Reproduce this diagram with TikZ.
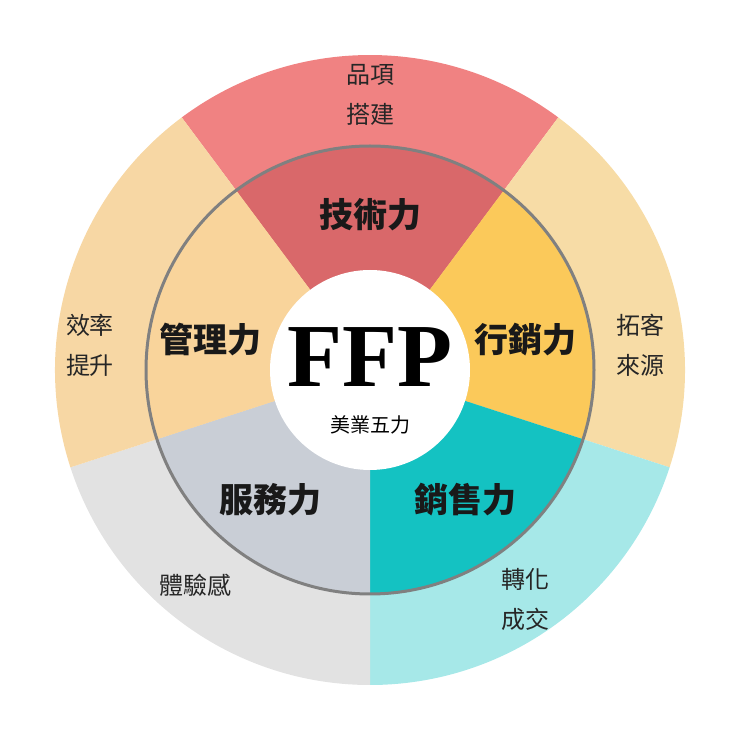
\documentclass[tikz,border=0pt]{standalone}
\usepackage{fontspec}
\newfontfamily\cjk{Noto Sans CJK TC}
\newfontfamily\ffp{Liberation Serif}
\definecolor{oR}{HTML}{F08282}\definecolor{iR}{HTML}{D9686A}
\definecolor{oP}{HTML}{F7D7A4}\definecolor{iP}{HTML}{F9D49B}
\definecolor{oY}{HTML}{F7DCA6}\definecolor{iY}{HTML}{FBC95A}
\definecolor{oG}{HTML}{E2E2E2}\definecolor{iG}{HTML}{C9CED6}
\definecolor{oC}{HTML}{A6E8E8}\definecolor{iC}{HTML}{14C2C2}
\begin{document}
\begin{tikzpicture}[x=1pt,y=1pt,
  outer/.style={font=\cjk\fontsize{24}{40}\selectfont,align=center,text=black!85},
  inner/.style={font=\cjk\bfseries\fontsize{34}{40}\selectfont,text=black!90}]
\useasboundingbox (0,0) rectangle (740,740);
\coordinate (C) at (370,370);
\newcommand\sect[4]{\fill[#1] (C) -- ++(#2:#4) arc[start angle=#2,end angle=#3,radius=#4] -- cycle;}
\sect{oR}{53.3}{126.7}{315}
\sect{oY}{-18}{53.3}{315}
\sect{oC}{-90}{-18}{315}
\sect{oG}{198}{270}{315}
\sect{oP}{126.7}{198}{315}
\sect{iR}{53.3}{126.7}{225}
\sect{iY}{-18}{53.3}{225}
\sect{iC}{-90}{-18}{225}
\sect{iG}{198}{270}{225}
\sect{iP}{126.7}{198}{225}
\draw[line width=3pt,draw=black!50] (C) circle[radius=224];
\fill[white] (C) circle[radius=100];
\node[outer] (a) at (370,645) {品項\\搭建};
\node[outer] (b) at (640,395) {拓客\\來源};
\node[outer] (c) at (90,395) {效率\\提升};
\node[outer] (d) at (195,155) {體驗感};
\node[outer] (e) at (525,141) {轉化\\成交};
\node[inner] (f) at (370,525) {技術力};
\node[inner] (g) at (525,400) {行銷力};
\node[inner] (h) at (210,400) {管理力};
\node[inner] (i) at (270,240) {服務力};
\node[inner] (j) at (465,240) {銷售力};
\node[font=\ffp\bfseries\fontsize{90}{90}\selectfont] (k) at (370,383) {FFP};
\node[font=\cjk\fontsize{20}{24}\selectfont] (l) at (370,315) {美業五力};
\end{tikzpicture}
\end{document}
